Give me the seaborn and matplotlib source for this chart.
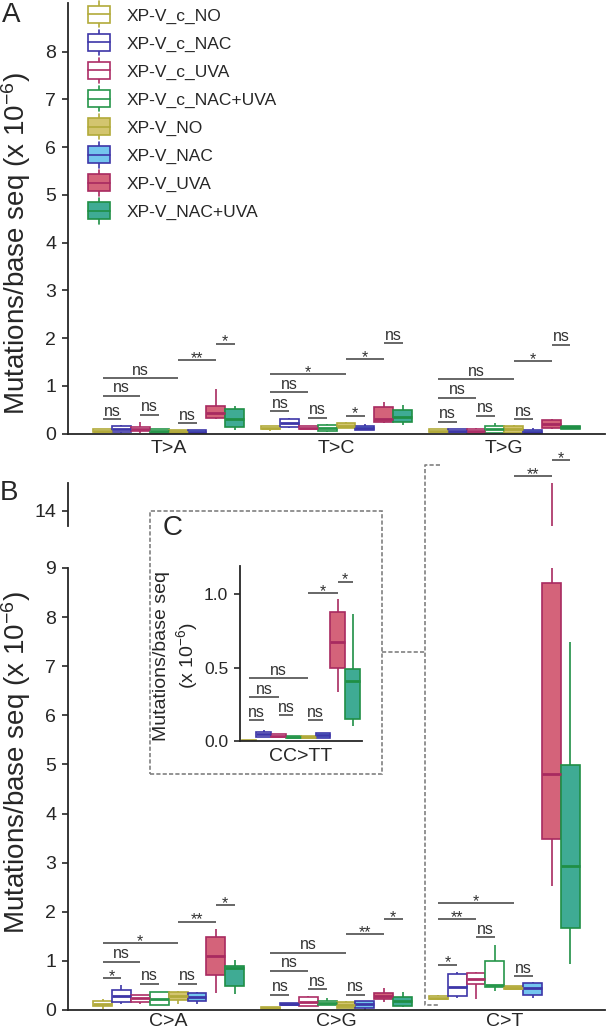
import matplotlib
matplotlib.use('Agg')
import matplotlib.pyplot as plt
import matplotlib.patches as mpatches
from matplotlib.lines import Line2D
from matplotlib.legend_handler import HandlerBase
from matplotlib.ticker import FormatStrFormatter
import numpy as np
import pandas as pd
import seaborn as sns

groups = ['XP-V_c_NO', 'XP-V_c_NAC', 'XP-V_c_UVA', 'XP-V_c_NAC+UVA',
          'XP-V_NO', 'XP-V_NAC', 'XP-V_UVA', 'XP-V_NAC+UVA']
edge_colors = ['#b2aa3a', '#3d36a8', '#ad2d66', '#26964a',
               '#b2aa3a', '#3d36a8', '#a82a60', '#1f8f45']
face_colors = ['white', 'white', 'white', 'white',
               '#d3c56f', '#74c5ee', '#d4637a', '#3fab94']

types_a = ['T>A', 'T>C', 'T>G']
types_b = ['C>A', 'C>G', 'C>T']
types_c = ['CC>TT']

# (whisker low, q1, median, q3, whisker high) per group, x 10^-6
t_to_a = [(0.02, 0.025, 0.05, 0.09, 0.09), (0.02, 0.04, 0.09, 0.16, 0.18),
          (0.02, 0.05, 0.09, 0.14, 0.25), (0.02, 0.02, 0.05, 0.09, 0.09),
          (0.02, 0.02, 0.04, 0.07, 0.07), (0.02, 0.02, 0.04, 0.07, 0.07),
          (0.30, 0.32, 0.42, 0.58, 0.93), (0.07, 0.14, 0.30, 0.51, 0.58)]
t_to_c = [(0.05, 0.09, 0.12, 0.16, 0.16), (0.12, 0.14, 0.21, 0.30, 0.32),
          (0.09, 0.09, 0.12, 0.16, 0.16), (0.025, 0.06, 0.11, 0.17, 0.20),
          (0.115, 0.115, 0.16, 0.23, 0.25), (0.07, 0.07, 0.11, 0.16, 0.19),
          (0.23, 0.25, 0.30, 0.56, 0.65), (0.18, 0.25, 0.34, 0.49, 0.60)]
t_to_g = [(0.03, 0.03, 0.06, 0.09, 0.09), (0.04, 0.04, 0.06, 0.09, 0.09),
          (0.02, 0.02, 0.06, 0.10, 0.12), (0.02, 0.02, 0.09, 0.16, 0.23),
          (0.02, 0.02, 0.09, 0.16, 0.18), (0.0, 0.0, 0.03, 0.07, 0.12),
          (0.09, 0.11, 0.19, 0.28, 0.30), (0.09, 0.09, 0.13, 0.16, 0.16)]
c_to_a = [(0.03, 0.08, 0.13, 0.19, 0.22), (0.13, 0.17, 0.29, 0.41, 0.51),
          (0.12, 0.17, 0.24, 0.31, 0.31), (0.10, 0.10, 0.22, 0.36, 0.37),
          (0.12, 0.20, 0.29, 0.36, 0.39), (0.12, 0.19, 0.27, 0.34, 0.37),
          (0.34, 0.71, 1.10, 1.49, 1.65), (0.32, 0.49, 0.85, 0.90, 1.02)]
c_to_g = [(0.02, 0.02, 0.04, 0.06, 0.06), (0.11, 0.11, 0.13, 0.15, 0.15),
          (0.08, 0.08, 0.17, 0.26, 0.29), (0.10, 0.10, 0.14, 0.18, 0.24),
          (0.04, 0.04, 0.10, 0.16, 0.19), (0.01, 0.05, 0.12, 0.18, 0.18),
          (0.17, 0.22, 0.29, 0.34, 0.44), (0.07, 0.08, 0.19, 0.27, 0.36)]
c_to_t = [(0.20, 0.22, 0.25, 0.28, 0.30), (0.24, 0.28, 0.46, 0.735, 0.78),
          (0.22, 0.52, 0.64, 0.76, 0.78), (0.38, 0.46, 0.50, 1.00, 1.33),
          (0.42, 0.42, 0.45, 0.48, 0.48), (0.25, 0.31, 0.44, 0.54, 0.58),
          (2.52, 3.49, 4.80, 8.70, 14.57), (0.94, 1.67, 2.94, 4.98, 7.50)]
cc_to_tt = [(0.0, 0.0, 0.003, 0.006, 0.006), (0.03, 0.03, 0.048, 0.064, 0.075),
            (0.025, 0.025, 0.035, 0.048, 0.048), (0.018, 0.018, 0.027, 0.036, 0.036),
            (0.018, 0.018, 0.027, 0.036, 0.036), (0.023, 0.023, 0.04, 0.057, 0.057),
            (0.336, 0.495, 0.677, 0.877, 0.97), (0.105, 0.152, 0.409, 0.493, 0.866)]

# significance brackets: same group pairs everywhere
pairs = [(0, 1), (2, 3), (4, 5), (0, 2), (0, 4), (4, 6), (6, 7)]
sig_t_a = ['ns', 'ns', 'ns', 'ns', 'ns', '**', '*']
sig_t_c = ['ns', 'ns', '*', 'ns', '*', '*', 'ns']
sig_t_g = ['ns', 'ns', 'ns', 'ns', 'ns', '*', 'ns']
sig_c_a = ['*', 'ns', 'ns', 'ns', '*', '**', '*']
sig_c_g = ['ns', 'ns', 'ns', 'ns', 'ns', '**', '*']
sig_c_t = ['*', 'ns', 'ns', '**', '*', '**', '*']
sig_cc = ['ns', 'ns', 'ns', 'ns', 'ns', '*', '*']
h_t_a = [0.30, 0.39, 0.21, 0.79, 1.16, 1.54, 1.88]
h_t_c = [0.47, 0.33, 0.37, 0.86, 1.24, 1.56, 1.89]
h_t_g = [0.25, 0.37, 0.30, 0.75, 1.14, 1.51, 1.86]
h_c_a = [0.65, 0.53, 0.53, 0.98, 1.36, 1.80, 2.14]
h_c_g = [0.31, 0.42, 0.31, 0.80, 1.17, 1.54, 1.85]
h_c_t = [0.92, 1.48, 0.69, 1.85, 2.17, 14.71, 15.04]
h_cc = [0.143, 0.177, 0.143, 0.30, 0.427, 1.007, 1.086]

ylab = r'Mutations/base seq (x 10$^{-6}$)'

sns.set_style('ticks')
plt.rcParams['font.family'] = ['Liberation Sans', 'DejaVu Sans']
plt.rcParams['mathtext.default'] = 'regular'

W, H = 609, 1035
def fx(px):
    return px / W
def fy(py):
    return 1 - py / H

face_map = dict(zip(groups, face_colors))
edge_map = dict(zip(groups, edge_colors))
BOX_W = 0.9
box_off = (np.arange(8) + 0.5) * BOX_W / 8 - BOX_W / 2


def to_long(types, summaries):
    rows = []
    for t, boxes in zip(types, summaries):
        for g, five in zip(groups, boxes):
            rows += [(t, g, v) for v in five]
    return pd.DataFrame(rows, columns=['type', 'group', 'rate'])


def draw_boxes(ax, df, order):
    for g in groups:
        sns.boxplot(data=df[df['group'] == g], x='type', y='rate', hue='group',
                    order=order, hue_order=groups, palette=face_map,
                    linecolor=edge_map[g], saturation=1, width=BOX_W, dodge=True,
                    whis=(0, 100), showfliers=False, showcaps=False,
                    linewidth=1.2, medianprops={'linewidth': 2.0},
                    legend=False, ax=ax)


def draw_sig(pick_ax, ci, heights, labels, fs=11.5):
    for (i, j), h, lab in zip(pairs, heights, labels):
        ax = pick_ax(h)
        x1, x2 = ci + box_off[i], ci + box_off[j]
        ax.plot([x1, x2], [h, h], color='#4d4d4d', lw=1.2, solid_capstyle='butt')
        dy = 2.5 if lab == 'ns' else -2
        ax.annotate(lab, ((x1 + x2) / 2, h), xytext=(0, dy), textcoords='offset points',
                    ha='center', va='baseline', fontsize=fs, color='#333333')


def style(ax, ysize=14, xsize=14, xpad=4):
    for s in ['top', 'right']:
        ax.spines[s].set_visible(False)
    for s in ['left', 'bottom']:
        ax.spines[s].set_linewidth(1.3)
    ax.tick_params(axis='y', direction='out', length=4.5, width=1.2, labelsize=ysize, pad=4)
    ax.tick_params(axis='x', length=0, labelsize=xsize, pad=xpad)
    ax.set_xlabel('')
    ax.patch.set_visible(False)


class BoxHandler(HandlerBase):
    def create_artists(self, legend, orig_handle, xdescent, ydescent, width, height, fontsize, trans):
        fc = orig_handle.get_facecolor()
        ec = orig_handle.get_edgecolor()
        x0, y0 = -xdescent, -ydescent
        cx, cy = x0 + width / 2, y0 + height / 2
        bh = height * 1.3
        whisk = Line2D([cx, cx], [cy - bh * 0.78, cy + bh * 0.78], color=ec, lw=1.2, transform=trans)
        box = mpatches.Rectangle((x0, cy - bh / 2), width, bh, facecolor=fc, edgecolor=ec,
                                 lw=1.2, transform=trans)
        med = Line2D([x0, x0 + width], [cy, cy], color=ec, lw=1.2, transform=trans)
        return [whisk, box, med]


fig = plt.figure(figsize=(W / 100, H / 100), dpi=100)
ax_a = fig.add_axes([fx(68), fy(433.5), (605 - 68) / W, (433.5 - 3) / H])
ax_bt = fig.add_axes([fx(68), fy(526), (605 - 68) / W, (526 - 445) / H])
ax_b = fig.add_axes([fx(68), fy(1010), (605 - 68) / W, (1010 - 568) / H])
ax_c = fig.add_axes([fx(240), fy(741), (362 - 240) / W, (741 - 566) / H])

# panel A
df_a = to_long(types_a, [t_to_a, t_to_c, t_to_g])
draw_boxes(ax_a, df_a, types_a)
for ci, (h, s) in enumerate(zip([h_t_a, h_t_c, h_t_g], [sig_t_a, sig_t_c, sig_t_g])):
    draw_sig(lambda v: ax_a, ci, h, s)
ax_a.set_xlim(-0.6, 2.6)
ax_a.set_ylim(0, 9.02)
ax_a.set_yticks(range(0, 9))
style(ax_a, xpad=4.5)
ax_a.set_ylabel(ylab, fontsize=20)
ax_a.yaxis.set_label_coords(-0.065, 0.44)

handles = [mpatches.Rectangle((0, 0), 1, 1, facecolor=f, edgecolor=e)
           for f, e in zip(face_colors, edge_colors)]
ax_a.legend(handles, groups, handler_map={mpatches.Rectangle: BoxHandler()},
            loc='upper left', bbox_to_anchor=(fx(88), fy(8)), bbox_transform=fig.transFigure,
            frameon=False, fontsize=12.5, handlelength=1.25, handleheight=0.75,
            handletextpad=1.0, labelspacing=0.72, borderpad=0, borderaxespad=0)

# panel B (broken axis)
df_b = to_long(types_b, [c_to_a, c_to_g, c_to_t])
draw_boxes(ax_b, df_b, types_b)
draw_boxes(ax_bt, df_b, types_b)
pick_b = lambda v: ax_bt if v > 9 else ax_b
for ci, (h, s) in enumerate(zip([h_c_a, h_c_g, h_c_t], [sig_c_a, sig_c_g, sig_c_t])):
    draw_sig(pick_b, ci, h, s)
for ax in (ax_b, ax_bt):
    ax.set_xlim(-0.6, 2.6)
ax_b.set_ylim(0, 9)
ax_b.set_yticks(range(0, 10))
style(ax_b, xpad=2.5)
ax_b.set_ylabel(ylab, fontsize=20)
ax_b.yaxis.set_label_coords(-0.065, 0.559)

ax_bt.set_ylim(13.69, 15.344)
ax_bt.set_yticks([14])
style(ax_bt)
ax_bt.spines['bottom'].set_visible(False)
ax_bt.spines['left'].set_bounds(13.69, 14.57)
ax_bt.tick_params(axis='x', labelbottom=False)
ax_bt.set_ylabel('')

# panel C inset
df_c = to_long(types_c, [cc_to_tt])
draw_boxes(ax_c, df_c, types_c)
draw_sig(lambda v: ax_c, 0, h_cc, sig_cc)
ax_c.set_xlim(-0.463, 0.466)
ax_c.set_ylim(0, 1.193)
ax_c.set_yticks([0.0, 0.5, 1.0])
ax_c.yaxis.set_major_formatter(FormatStrFormatter('%.1f'))
style(ax_c, ysize=12.5, xsize=14, xpad=5)
ax_c.set_ylabel('Mutations/base seq\n(x 10$^{-6}$)', fontsize=14)
ax_c.yaxis.set_label_coords(-0.33, 0.486)

# dashed frame and connectors
dash = dict(color='#808080', lw=1.2, linestyle=(0, (2.5, 1.3)), transform=fig.transFigure)
fig.add_artist(mpatches.Rectangle((fx(150), fy(774)), (382 - 150) / W, (774 - 511) / H,
                                  fill=False, edgecolor='#808080', lw=1.2,
                                  linestyle=(0, (2.5, 1.3)), transform=fig.transFigure))
fig.add_artist(Line2D([fx(382), fx(425)], [fy(652), fy(652)], **dash))
fig.add_artist(Line2D([fx(440), fx(425), fx(425), fx(440)],
                      [fy(465), fy(465), fy(1005), fy(1005)], **dash))

fig.text(fx(2), fy(2), 'A', fontsize=20, va='top', ha='left')
fig.text(fx(0), fy(480), 'B', fontsize=20, va='top', ha='left')
fig.text(fx(163), fy(515), 'C', fontsize=20, va='top', ha='left')

fig.savefig('out.png', dpi=100)
